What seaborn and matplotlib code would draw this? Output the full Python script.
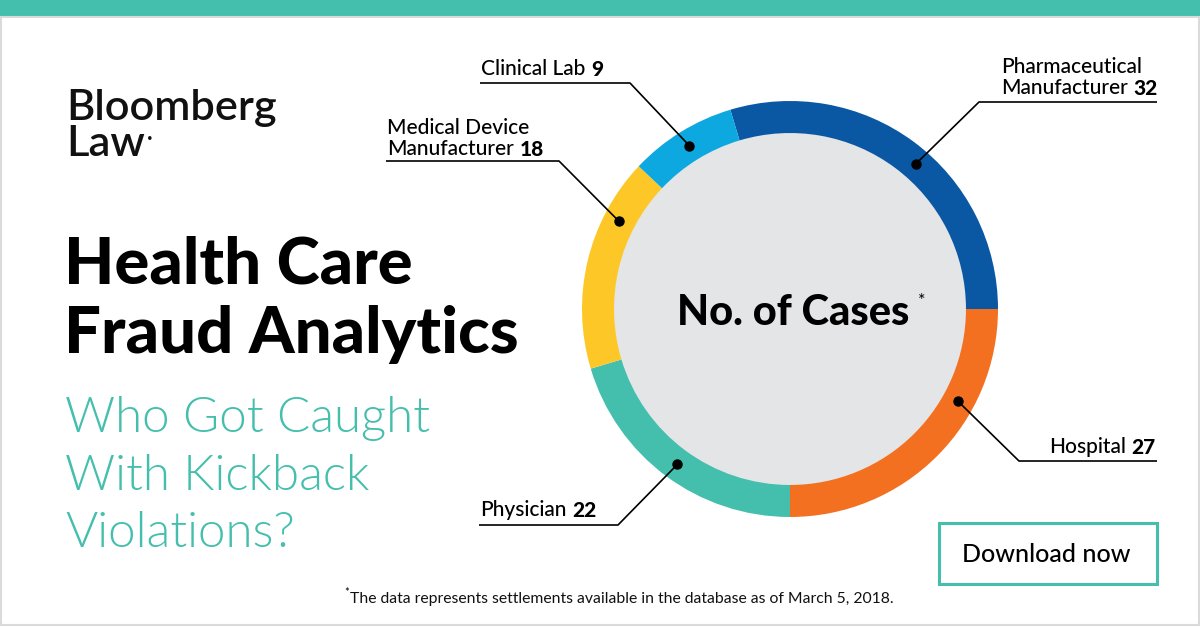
import numpy as np
import seaborn as sns
import matplotlib.pyplot as plt
from matplotlib.patches import Rectangle, Circle

categories = ["Pharmaceutical\nManufacturer", "Hospital", "Physician",
              "Medical Device\nManufacturer", "Clinical Lab"]
cases = [32, 27, 22, 18, 9]
colors = ["#0A57A4", "#F37021", "#45BFAD", "#FDC827", "#0DA8E0"]

# where along each wedge (clockwise, 0..1) the leader dot sits
dot_frac = [0.54, 0.32, 0.49, 0.73, 0.5]

TEAL = "#45BFAD"
FONT = "Lato"

sns.set_theme(style="white")
plt.rcParams["font.family"] = [FONT, "DejaVu Sans"]

fig = plt.figure(figsize=(12, 6.27), dpi=100)
fig.patch.set_facecolor("white")

# donut: centre (790, 309) px, radius 208 px
cx, cy, R = 790, 309, 208
ax = fig.add_axes([(cx - R) / 1200, (627 - cy - R) / 627, 2 * R / 1200, 2 * R / 627])
ring = 0.154
total = sum(cases)
# first wedge ends at 3 o'clock
start = cases[0] / total * 360
wedges, _ = ax.pie(cases, colors=colors, startangle=start, counterclock=False,
                   wedgeprops=dict(width=ring, edgecolor="none"))
ax.add_patch(Circle((0, 0), 1 - ring, color="#E4E5E6", zorder=0))
ax.set_xlim(-1, 1)
ax.set_ylim(-1, 1)
ax.axis("off")

# overlay in pixel coordinates
bg = fig.add_axes([0, 0, 1, 1], zorder=3)
bg.set_xlim(0, 1200)
bg.set_ylim(627, 0)
bg.axis("off")
bg.patch.set_visible(False)

bg.add_patch(Rectangle((0, 0), 1200, 17, color=TEAL, lw=0))
bg.add_patch(Rectangle((1, 17), 1197.5, 608, fill=False, edgecolor="#DADADA", lw=1.5))

# logo
bg.text(66, 120, "Bloomberg", fontsize=31.2, fontweight="semibold", color="#111111")
bg.text(66, 156, "Law", fontsize=31.2, fontweight="semibold", color="#111111")
bg.text(147, 141, "•", fontsize=7, color="#111111")

# titles
bg.text(64, 283, "Health Care", fontsize=47, fontweight="black", color="black")
bg.text(64, 353, "Fraud Analytics", fontsize=47, fontweight="black", color="black")
for i, line in enumerate(["Who Got Caught", "With Kickback", "Violations?"]):
    bg.text(65, 432 + i * 57.5, line, fontsize=35.5, fontweight=300, color=TEAL)

# centre label
bg.text(cx + 3, 325, "No. of Cases", fontsize=30, fontweight="black", ha="center",
        color="black")
bg.text(918, 306, "*", fontsize=13, color="black")

# leader labels: text x, first baseline, elbow x, far end x
layout = {
    0: dict(x=1001, y=73, ux=979, uend=1157, uy=102),
    1: dict(x=1049, y=453, ux=1019, uend=1157, uy=461),
    2: dict(x=480, y=516, ux=618, uend=479, uy=525),
    3: dict(x=387, y=134, ux=559, uend=386, uy=161),
    4: dict(x=481, y=75, ux=630, uend=480, uy=83),
}

to_bg = bg.transData.inverted()
for i, w in enumerate(wedges):
    L = layout[i]
    ang = np.deg2rad(w.theta2 - dot_frac[i] * (w.theta2 - w.theta1))
    rm = 1 - ring / 2
    px, py = to_bg.transform(ax.transData.transform((rm * np.cos(ang), rm * np.sin(ang))))
    bg.plot([px, L["ux"], L["uend"]], [py, L["uy"], L["uy"]], color="black", lw=1.2,
            solid_capstyle="butt")
    bg.plot(px, py, "o", color="black", ms=6.5)

    lines = categories[i].split("\n")
    y = L["y"]
    for j, line in enumerate(lines):
        t = bg.text(L["x"], y + j * 21, line, fontsize=15, color="black",
                    fontweight="medium")
    bg.annotate(str(cases[i]), xy=(1, 0), xycoords=t, xytext=(4, 0),
                textcoords="offset points", fontsize=15, fontweight="black",
                va="bottom", ha="left", color="black")

# download button
bg.add_patch(Rectangle((938.5, 523), 218, 61, fill=False, edgecolor=TEAL, lw=2.2))
bg.text(1046, 555, "Download now", fontsize=18, fontweight="medium", ha="center",
        va="center", color="black")

# footnote
bg.text(344, 596, "*", fontsize=8, color="black")
bg.text(350, 603, "The data represents settlements available in the database as of March 5, 2018.",
        fontsize=11.3, color="#111111")

fig.savefig("out.png", dpi=100, facecolor="white")
